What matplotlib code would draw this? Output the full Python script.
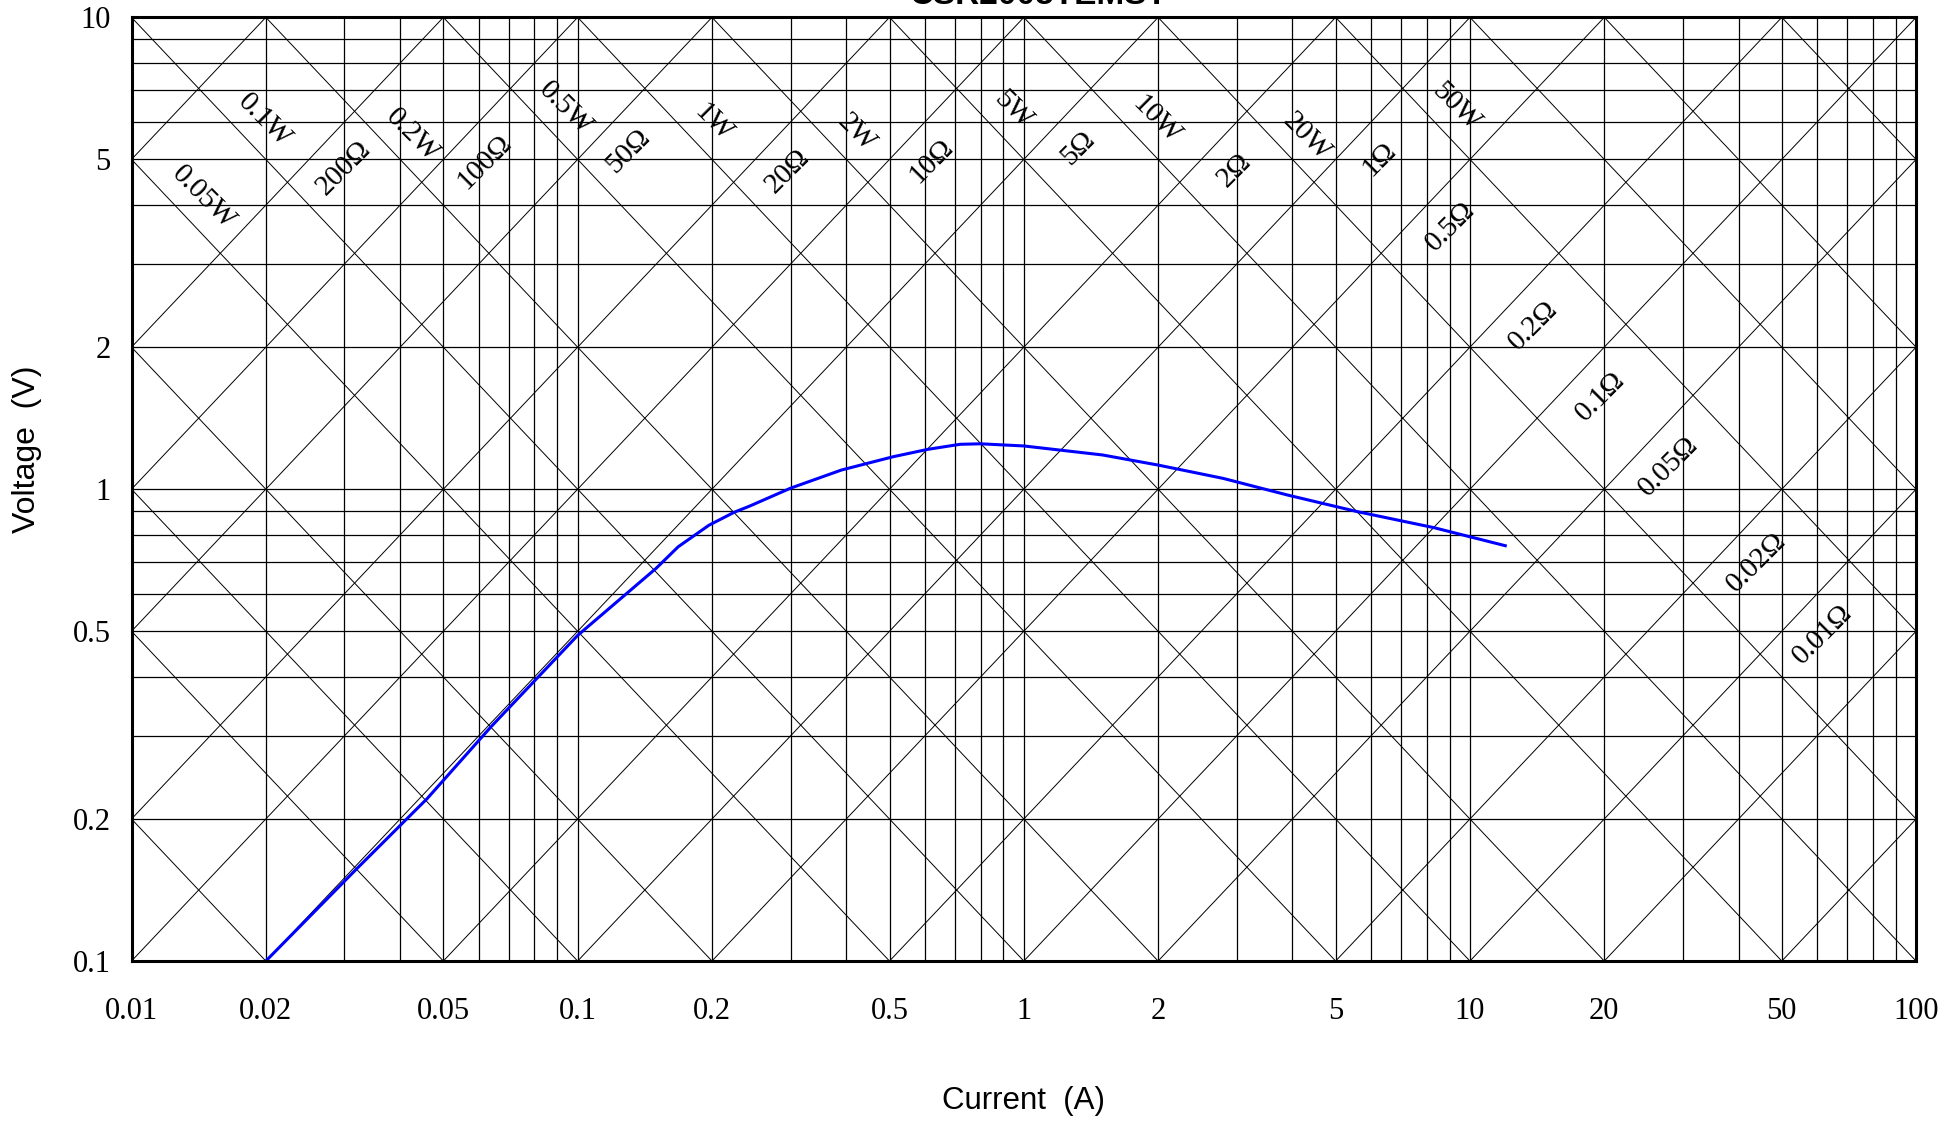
import matplotlib
matplotlib.use('Agg')
import matplotlib.pyplot as plt
import numpy as np

# measured curve (current in A, voltage in V)
current = [0.02, 0.032, 0.046, 0.064, 0.10, 0.15, 0.168, 0.197, 0.224, 0.243,
           0.30, 0.39, 0.51, 0.61, 0.72, 0.80, 1.0, 1.5, 2.0, 2.8, 3.9, 5.6, 8.3, 12.0]
voltage = [0.1, 0.157, 0.221, 0.314, 0.49, 0.68, 0.755, 0.839, 0.893, 0.921,
           1.005, 1.098, 1.172, 1.215, 1.245, 1.248, 1.235, 1.182, 1.125, 1.054,
           0.972, 0.896, 0.829, 0.759]

x_ticks = [0.01, 0.02, 0.05, 0.1, 0.2, 0.5, 1, 2, 5, 10, 20, 50, 100]
x_ticklabels = ['0.01', '0.02', '0.05', '0.1', '0.2', '0.5', '1', '2', '5', '10', '20', '50', '100']
y_ticks = [0.1, 0.2, 0.5, 1, 2, 5, 10]
y_ticklabels = ['0.1', '0.2', '0.5', '1', '2', '5', '10']

# constant power / resistance guide lines (1-2-5 series)
guide_values = [m * 10.0 ** e for e in range(-4, 5) for m in (1, 2, 5)]

# labelled guides and where along the current axis the label sits
watt_labels = ['0.05W', '0.1W', '0.2W', '0.5W', '1W', '2W', '5W', '10W', '20W', '50W']
watt_values = [0.05, 0.1, 0.2, 0.5, 1, 2, 5, 10, 20, 50]
watt_label_x = [0.0145, 0.0199, 0.0427, 0.0938, 0.201, 0.422, 0.944, 1.98, 4.30, 9.31]

ohm_labels = ['200Ω', '100Ω', '50Ω', '20Ω', '10Ω', '5Ω', '2Ω', '1Ω', '0.5Ω',
              '0.2Ω', '0.1Ω', '0.05Ω', '0.02Ω', '0.01Ω']
ohm_values = [200, 100, 50, 20, 10, 5, 2, 1, 0.5, 0.2, 0.1, 0.05, 0.02, 0.01]
ohm_label_x = [0.0299, 0.0617, 0.130, 0.295, 0.621, 1.32, 2.97, 6.25, 9.02,
               13.9, 19.6, 27.9, 43.8, 61.6]

SERIF = 'Liberation Serif'
SANS = 'Liberation Sans'

fig = plt.figure(figsize=(19.6, 11.21), dpi=100)
ax = fig.add_axes([0.0671, 0.1427, 0.9105, 0.8418])
ax.set_xscale('log')
ax.set_yscale('log')
ax.set_xlim(0.01, 100)
ax.set_ylim(0.1, 10)

# rectangular grid at every 1..9 per decade
for e in range(-2, 2):
    for m in range(1, 10):
        ax.axvline(m * 10.0 ** e, color='black', lw=0.9, zorder=1)
for e in range(-1, 1):
    for m in range(1, 10):
        ax.axhline(m * 10.0 ** e, color='black', lw=0.9, zorder=1)

# diagonals
xs = np.array([1e-3, 1e3])
for v in guide_values:
    ax.plot(xs, v / xs, color='black', lw=0.7, zorder=1)
    ax.plot(xs, v * xs, color='black', lw=0.7, zorder=1)

for lab, p, x in zip(watt_labels, watt_values, watt_label_x):
    ax.text(x, p * 1.2 / x, lab, rotation=-45, rotation_mode='anchor',
            ha='center', va='center', fontsize=21, family=SERIF, zorder=3)
for lab, r, x in zip(ohm_labels, ohm_values, ohm_label_x):
    ax.text(x, r * 0.8 * x, lab, rotation=45, rotation_mode='anchor',
            ha='center', va='center', fontsize=21, family=SERIF, zorder=3)

ax.plot(current, voltage, color='#0000ff', lw=2.2, zorder=4)

ax.set_xticks(x_ticks)
ax.set_xticklabels(x_ticklabels)
ax.set_yticks(y_ticks)
ax.set_yticklabels(y_ticklabels)
ax.minorticks_off()
ax.tick_params(axis='both', length=0, labelsize=22)
ax.tick_params(axis='x', pad=26)
ax.tick_params(axis='y', pad=15)
for t in ax.get_xticklabels() + ax.get_yticklabels():
    t.set_family(SERIF)

for s in ax.spines.values():
    s.set_linewidth(2.2)
    s.set_zorder(5)

fig.text(0.014, 0.599, 'Voltage  (V)', rotation=90, ha='center', va='center',
         fontsize=23, family=SANS)
fig.text(0.522, 0.018, 'Current  (A)', ha='center', va='center',
         fontsize=22.5, family=SANS)
fig.text(0.530, 0.9965, 'CSR2005TEMST', ha='center', va='baseline',
         fontsize=24, family=SANS, fontweight='bold')

fig.savefig('out.png', dpi=100)
